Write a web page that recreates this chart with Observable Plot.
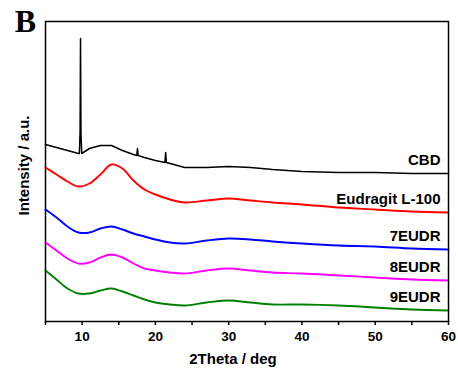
<!DOCTYPE html>
<html><head><meta charset="utf-8">
<script src="https://cdn.jsdelivr.net/npm/d3@7"></script>
<script src="https://cdn.jsdelivr.net/npm/@observablehq/plot@0.6"></script>
<style>
body{margin:0;background:#fff}
#wrap{position:relative;width:458px;height:378px}
#border{position:absolute;left:44.75px;top:20.75px;width:404.5px;height:301.5px;border:1.5px solid #000;box-sizing:border-box;pointer-events:none}
</style>
</head><body><div id="wrap"><div id="chart"></div><div id="border"></div></div>
<script>
// 2Theta grid (deg)
const theta = [5, 6.5, 8, 9.5, 11, 12.5, 14, 15.5, 17, 18.5, 20, 22, 24, 27, 30, 33, 36, 40, 45, 50, 55, 60];
// intensities (a.u., offset stacked)
const cbd      = [177,174,171,168,173,176,176,171,167,164,161,158,154,154,155,154,152,150,149,149,148,148];
const eudragit = [154,147,140,135,138,147,157,153,141,132,127,122,119,121,123,121,119,117,114,112,110,109];
const eudr7    = [112,104,95,89,89,93,95,92,88,85,82,79,78,81,83,82,80,78,76,75,73,72];
const eudr8    = [79,71,63,58,59,64,67,64,58,53,51,49,48,51,53,51,49,48,46,44,42,41];
const eudr9    = [51,42,33,28,28,31,33,30,26,22,19,17,16,19,21,19,17,17,16,14,12,11];
// sharp CBD crystalline reflections
const cbdPeakTheta = [9.62, 9.72, 9.78, 9.84, 9.94, 17.45, 17.55, 17.65, 21.3, 21.4, 21.5];
const cbdPeakInt   = [168, 189, 283, 189, 168, 166, 173, 166, 159, 169, 159];

const seriesNames = ["CBD", "Eudragit L-100", "7EUDR", "8EUDR", "9EUDR"];
const seriesColors = ["#000000", "#ff0000", "#0000ff", "#ff00ff", "#008000"];
const xDomain = [5, 60];
const yDomain = [0, 300];
const majorTicks = [10, 20, 30, 40, 50, 60];
const minorTicks = [5, 15, 25, 35, 45, 55];

const seriesValues = [cbd, eudragit, eudr7, eudr8, eudr9];
const rows = [];
seriesValues.forEach((vals, i) => {
  const pts = theta.map((t, j) => ({theta: t, int: vals[j]}));
  if (i === 0) cbdPeakTheta.forEach((t, j) => pts.push({theta: t, int: cbdPeakInt[j]}));
  pts.sort((a, b) => a.theta - b.theta);
  pts.forEach(p => rows.push({series: seriesNames[i], ...p}));
});
const labelRows = seriesNames.map((s, i) => ({series: s, theta: theta[theta.length - 1], int: seriesValues[i][seriesValues[i].length - 1]}));

const font = "'Liberation Sans', Arial, sans-serif";
const chart = Plot.plot({
  width: 458, height: 378,
  marginLeft: 45, marginRight: 10, marginTop: 21, marginBottom: 57,
  style: {fontFamily: font, fontWeight: "bold", fontSize: "13.5px", color: "#000", background: "#fff"},
  x: {domain: xDomain, axis: null},
  y: {domain: yDomain, axis: null},
  marks: [
    Plot.frame({stroke: "#000", strokeWidth: 1.5}),
    ...seriesNames.map((s, i) => Plot.line(rows.filter(r => r.series === s), {
      x: "theta", y: "int", stroke: seriesColors[i], strokeWidth: i === 0 ? 1.5 : 1.9, curve: i === 0 ? "linear" : "catmull-rom"
    })),
    Plot.text(labelRows, {x: "theta", y: "int", text: "series", textAnchor: "end", lineAnchor: "middle", dx: -8, dy: -13, fontSize: 15, fontWeight: "bold", fill: "#000"}),
    Plot.axisX(majorTicks, {tickSize: 4, tickPadding: 6, strokeWidth: 1.5, label: null, fontSize: 13.5, fontWeight: "bold"}),
    Plot.axisX(minorTicks, {tickSize: 4, strokeWidth: 1.5, label: null, tickFormat: () => ""}),
    Plot.text(["2Theta / deg"], {text: d => d, frameAnchor: "bottom", textAnchor: "middle", lineAnchor: "middle", dx: -14, dy: 38, fontSize: 15, fontWeight: "bold", fill: "#000"}),
    Plot.text(["Intensity / a.u."], {text: d => d, frameAnchor: "left", rotate: -90, textAnchor: "middle", lineAnchor: "middle", dx: -21, dy: -6, fontSize: 15, fontWeight: "bold", fill: "#000"}),
    Plot.text(["B"], {text: d => d, frameAnchor: "top-left", textAnchor: "middle", lineAnchor: "middle", dx: -20, dy: 0, fontSize: 32, fontWeight: "bold", fontFamily: "'Liberation Serif', 'Times New Roman', serif", fill: "#000"})
  ]
});
document.getElementById("chart").appendChild(chart);
</script>
</body></html>
